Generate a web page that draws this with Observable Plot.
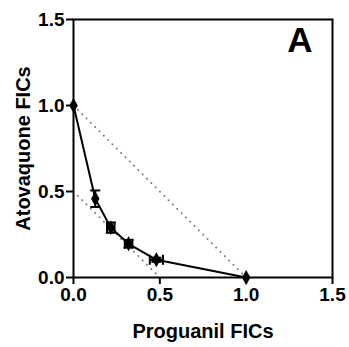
<!DOCTYPE html>
<html>
<head>
<meta charset="utf-8">
<script src="https://cdn.jsdelivr.net/npm/d3@7"></script>
<script src="https://cdn.jsdelivr.net/npm/@observablehq/plot@0.6"></script>
<style>
  html, body { margin: 0; padding: 0; background: #fff; }
</style>
</head>
<body>
<div id="chart"></div>
<script>
// Data
const proguanil = [0, 0.126, 0.216, 0.319, 0.480, 1.0];
const atovaquone = [1.0, 0.458, 0.29, 0.196, 0.103, 0];
const proguanilErr = [0, 0, 0.022, 0.022, 0.038, 0];
const atovaquoneErr = [0, 0.048, 0.03, 0.022, 0.012, 0];
const additivityX = [0, 1];
const additivityY = [1, 0];
const halfX = [0, 0.5];
const halfY = [0.5, 0];
const ticks = [0, 0.5, 1.0, 1.5];
const xLabel = "Proguanil FICs";
const yLabel = "Atovaquone FICs";
const panelLabel = "A";

const pts = proguanil.map((x, i) => ({x, y: atovaquone[i], ex: proguanilErr[i], ey: atovaquoneErr[i]}));
const yBars = pts.filter(d => d.ey > 0);
const xBars = pts.filter(d => d.ex > 0);
const diag1 = additivityX.map((x, i) => ({x, y: additivityY[i]}));
const diag2 = halfX.map((x, i) => ({x, y: halfY[i]}));

const hCap = {draw(ctx, size) { const r = Math.sqrt(size / Math.PI); ctx.moveTo(-r, 0); ctx.lineTo(r, 0); }};
const vCap = {draw(ctx, size) { const r = Math.sqrt(size / Math.PI); ctx.moveTo(0, -r); ctx.lineTo(0, r); }};

const fmt = d3.format(".1f");

const chart = Plot.plot({
  width: 349,
  height: 347,
  marginLeft: 73,
  marginRight: 17,
  marginTop: 19,
  marginBottom: 70,
  style: {fontFamily: "'Liberation Sans', Arial, sans-serif", fontWeight: "bold", fontSize: "19px", color: "#000", background: "#fff"},
  x: {domain: [0, 1.5]},
  y: {domain: [0, 1.5]},
  marks: [
    Plot.line(diag1, {x: "x", y: "y", stroke: "#808080", strokeWidth: 2, strokeDasharray: "0.1,6", strokeLinecap: "round"}),
    Plot.line(diag2, {x: "x", y: "y", stroke: "#808080", strokeWidth: 2, strokeDasharray: "0.1,6", strokeLinecap: "round"}),
    Plot.line(pts, {x: "x", y: "y", stroke: "#000", strokeWidth: 2}),
    Plot.ruleX(yBars, {x: "x", y1: d => d.y - d.ey, y2: d => d.y + d.ey, stroke: "#000", strokeWidth: 2}),
    Plot.ruleY(xBars, {y: "y", x1: d => d.x - d.ex, x2: d => d.x + d.ex, stroke: "#000", strokeWidth: 2}),
    Plot.dot(yBars, {x: "x", y: d => d.y - d.ey, symbol: hCap, r: 5, stroke: "#000", strokeWidth: 2, fill: "none"}),
    Plot.dot(yBars, {x: "x", y: d => d.y + d.ey, symbol: hCap, r: 5, stroke: "#000", strokeWidth: 2, fill: "none"}),
    Plot.dot(xBars, {x: d => d.x - d.ex, y: "y", symbol: vCap, r: 5, stroke: "#000", strokeWidth: 2, fill: "none"}),
    Plot.dot(xBars, {x: d => d.x + d.ex, y: "y", symbol: vCap, r: 5, stroke: "#000", strokeWidth: 2, fill: "none"}),
    Plot.dot(pts, {x: "x", y: "y", symbol: "diamond", r: 4.5, fill: "#000", stroke: "none"}),
    Plot.frame({stroke: "#000", strokeWidth: 2}),
    Plot.axisX({ticks, tickFormat: fmt, tickSize: 7, tickPadding: 3, label: null, strokeWidth: 2, fontWeight: "bold"}),
    Plot.axisY({ticks, tickFormat: fmt, tickSize: 7, tickPadding: 2, label: null, strokeWidth: 2, fontWeight: "bold"}),
    Plot.text([xLabel], {frameAnchor: "bottom", textAnchor: "middle", lineAnchor: "top", dy: 46, fontSize: 20, fontWeight: "bold"}),
    Plot.text([yLabel], {frameAnchor: "left", textAnchor: "middle", rotate: -90, dx: -50, lineAnchor: "middle", fontSize: 20, fontWeight: "bold"}),
    Plot.text([panelLabel], {frameAnchor: "top-right", textAnchor: "end", lineAnchor: "top", dx: -20, dy: 8, fontSize: 35, fontWeight: "bold"})
  ]
});
document.getElementById("chart").appendChild(chart);
</script>
</body>
</html>
